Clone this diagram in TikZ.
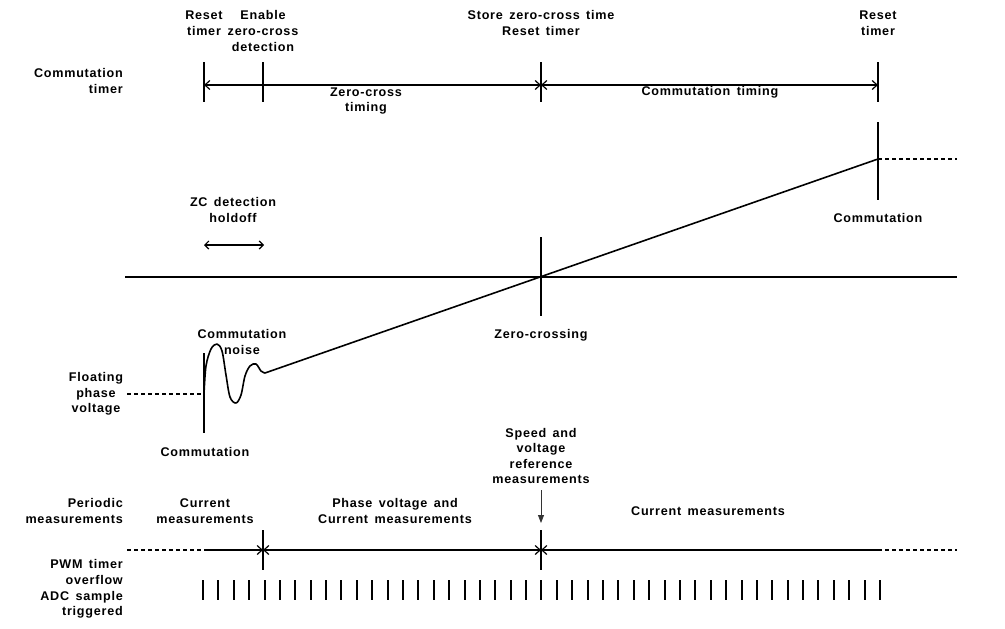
\documentclass[tikz,border=0pt]{standalone}
\usepackage{fontspec}
\setmainfont{Liberation Sans}[LetterSpace=6,WordSpace=1.5]
\usetikzlibrary{arrows.meta}
\tikzset{
  lbl/.style={font=\bfseries\fontsize{12.6}{15.6}\selectfont, inner sep=0pt, align=center},
  lblr/.style={lbl, align=right, anchor=east},
  ln/.style={line width=1.6pt},
  dsh/.style={line width=1.4pt, dash pattern=on 4pt off 3pt},
  tick/.style={line width=2pt},
  dbl/.style={ln, {Straight Barb[length=5pt,width=9pt,line width=1.2pt]}-{Straight Barb[length=5pt,width=9pt,line width=1.2pt]}},
  darr/.style={line width=0.8pt, -{Triangle[length=8pt,width=6pt]}}
}
\begin{document}
\begin{tikzpicture}[x=1pt,y=-1pt]
\useasboundingbox (0,0) rectangle (1005,629);

% ---------- Commutation timer ----------
\node[lbl] (rst1) at (204,23) {Reset\\timer};
\node[lbl] (enzc) at (263,31) {Enable\\zero-cross\\detection};
\node[lbl] (store) at (541,23) {Store zero-cross time\\Reset timer};
\node[lbl] (rst2) at (878,23) {Reset\\timer};
\node[lblr] (ctimer) at (123,81) {Commutation\\timer};

\coordinate (t1a) at (204,62); \coordinate (t1b) at (204,102);
\coordinate (t2a) at (263,62); \coordinate (t2b) at (263,102);
\coordinate (t3a) at (541,62); \coordinate (t3b) at (541,102);
\coordinate (t4a) at (878,62); \coordinate (t4b) at (878,102);
\draw[ln] (t1a) -- (t1b);
\draw[ln] (t2a) -- (t2b);
\draw[ln] (t3a) -- (t3b);
\draw[ln] (t4a) -- (t4b);
\coordinate (c1) at (204,85); \coordinate (c3) at (541,85); \coordinate (c4) at (878,85);
\draw[dbl] (c1) -- (c3);
\draw[dbl] (c3) -- (c4);
\node[lbl] (zct) at (366,101) {Zero-cross\\timing};
\node[lbl] (cmt) at (710,92) {Commutation timing};

% ---------- Voltage ----------
\node[lbl] (hold) at (233,210) {ZC detection\\holdoff};
\coordinate (h1) at (204,245); \coordinate (h2) at (264,245);
\draw[line width=1.3pt, {Straight Barb[length=4pt,width=8pt,line width=1.2pt]}-{Straight Barb[length=4pt,width=8pt,line width=1.2pt]}] (h1) -- (h2);

\coordinate (ax1) at (125,277); \coordinate (ax2) at (957,277);
\draw[ln] (ax1) -- (ax2);
\coordinate (zc1) at (541,237); \coordinate (zc2) at (541,316);
\draw[ln] (zc1) -- (zc2);
\node[lbl] (zcl) at (541,335) {Zero-crossing};

\coordinate (cm1) at (878,122); \coordinate (cm2) at (878,200);
\draw[ln] (cm1) -- (cm2);
\node[lbl] (cml) at (878,218) {Commutation};
\coordinate (rampend) at (878,159);
\coordinate (dashend) at (957,159);
\draw[dsh] (rampend) -- (dashend);

\coordinate (n0) at (204,394);
\coordinate (nend) at (265,373);
\draw[ln, line join=round] plot[smooth, tension=0.55] coordinates {(204,394) (206,366) (211,349) (217,344) (222,351) (226,375) (230,397) (236,403) (241,395) (245,376) (250,366) (256,364) (261,371) (265,373)};
\draw[ln] (nend) -- (rampend);

\coordinate (fv1) at (127,394);
\draw[dsh] (fv1) -- (n0);
\coordinate (v1) at (204,353); \coordinate (v2) at (204,433);
\draw[ln] (v1) -- (v2);
\node[lbl] (noise) at (242,342) {Commutation\\noise};
\node[lbl] (cml2) at (205,452) {Commutation};
\node[lbl] (fpv) at (96,394) {Floating\\phase\\voltage};

% ---------- Periodic measurements ----------
\node[lblr] (perm) at (123,511) {Periodic\\measurements};
\node[lbl] (cm_a) at (205,511) {Current\\measurements};
\node[lbl] (pvcm) at (395,511) {Phase voltage and\\Current measurements};
\node[lbl] (svr) at (541,456) {Speed and\\voltage\\reference\\measurements};
\node[lbl] (cm_b) at (708,511) {Current measurements};
\coordinate (sa1) at (541,490); \coordinate (sa2) at (541,523);
\draw[darr, draw=black!80, fill=black] (sa1) -- (sa2);

\coordinate (p0) at (127,550); \coordinate (p1) at (204,550);
\coordinate (p2) at (263,550); \coordinate (p3) at (541,550);
\coordinate (p4) at (878,550); \coordinate (p5) at (957,550);
\draw[dsh] (p0) -- (p1);
\draw[ln, -{Straight Barb[length=5pt,width=9pt,line width=1.2pt]}] (p1) -- (p2);
\draw[ln, -{Straight Barb[length=5pt,width=9pt,line width=1.2pt]}] (p3) -- (p2);
\draw[ln, -{Straight Barb[length=5pt,width=9pt,line width=1.2pt]}] (p2) -- (p3);
\draw[ln, -{Straight Barb[length=5pt,width=9pt,line width=1.2pt]}] (p4) -- (p3);
\draw[dsh] (p4) -- (p5);
\coordinate (m2a) at (263,530); \coordinate (m2b) at (263,570);
\coordinate (m3a) at (541,530); \coordinate (m3b) at (541,570);
\draw[ln] (m2a) -- (m2b);
\draw[ln] (m3a) -- (m3b);

\node[lblr] (pwm) at (123,589) {PWM timer\\overflow\\ADC sample\\triggered};
\foreach \i in {0,...,44} {
  \pgfmathsetmacro{\tx}{round(203+\i*15.386)}
  \draw[tick] (\tx,580) -- (\tx,600);
}
\end{tikzpicture}
\end{document}
